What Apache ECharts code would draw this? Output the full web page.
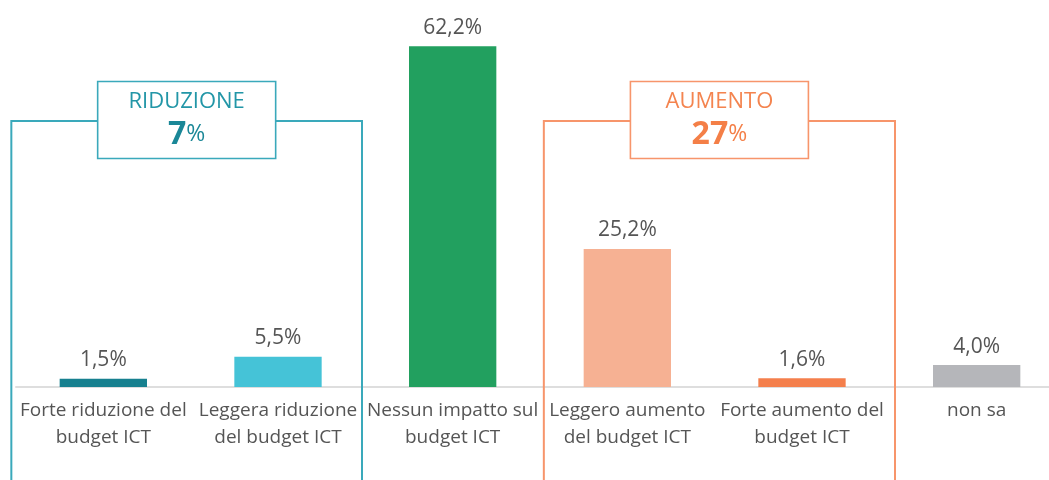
<!DOCTYPE html>
<html><head><meta charset="utf-8">
<script src="https://cdn.jsdelivr.net/npm/echarts@6/dist/echarts.min.js"></script>
<style>html,body{margin:0;padding:0;background:#fff}#c{width:1049px;height:480px}</style>
</head><body><div id="c"></div>
<script>
var categories = ['Forte riduzione del\nbudget ICT','Leggera riduzione\ndel budget ICT','Nessun impatto sul\nbudget ICT','Leggero aumento\ndel budget ICT','Forte aumento del\nbudget ICT','non sa'];
var values = [1.5, 5.5, 62.2, 25.2, 1.6, 4.0];
var barColors = ['#17808f','#45c3d7','#22a05f','#f6b193','#f47f4c','#b5b6ba'];
var groupTitles = ['RIDUZIONE','AUMENTO'];
var groupTotals = ['7','27'];
var groupFrom = [0, 3];
var groupTo = [1, 4];
// styling / layout (not data)
var groupStyle = [
  {line:'#3aa9bb', text:'#2296a7', big:'#1a8797', padL:92, padR:84},
  {line:'#f7956b', text:'#f4844f', big:'#f47f47', padL:83.5, padR:93}
];
var FONT = '"Open Sans", "Noto Sans", sans-serif';
var chart = echarts.init(document.getElementById('c'));
chart.setOption({
  animation:false,
  grid:{left:16, width:1048, top:3.4, bottom:93, containLabel:false, outerBoundsMode:'none'},
  xAxis:{type:'category', data:categories,
    axisLine:{lineStyle:{color:'#dedede', width:2}}, axisTick:{show:false},
    axisLabel:{interval:0, color:'#555', fontSize:19, fontFamily:FONT, lineHeight:27, margin:10}},
  yAxis:{type:'value', min:0, max:70, show:false, splitLine:{show:false}},
  series:[{type:'bar', barWidth:'50%',
    data: values.map(function(v,i){return {value:v, itemStyle:{color:barColors[i]}};}),
    label:{show:true, position:'top', distance:8, color:'#555', fontSize:21, fontFamily:FONT,
      formatter:function(p){return p.value.toFixed(1).replace('.',',')+'%';}}
  }]
});
function drawGroups(){
  var els = [];
  groupTitles.forEach(function(title, k){
    var s = groupStyle[k];
    var x0 = chart.convertToPixel({xAxisIndex:0}, groupFrom[k]);
    var x1 = chart.convertToPixel({xAxisIndex:0}, groupTo[k]);
    var left = x0 - s.padL, right = x1 + s.padR;
    var topY = 121;
    els.push({type:'polyline', z:1, shape:{points:[[left,500],[left,topY],[right,topY],[right,500]]},
      style:{stroke:s.line, lineWidth:2, fill:null}});
    var mid = (left+right)/2, bw = 178, bh = 77;
    var boxTop = 81.5;
    els.push({type:'rect', z:2, shape:{x:mid-bw/2, y:boxTop, width:bw, height:bh},
      style:{fill:'#fff', stroke:s.line, lineWidth:1.6}});
    els.push({type:'text', z:3, x:mid, y:boxTop+20, style:{text:title, fill:s.text, font:'22px '+FONT, align:'center', verticalAlign:'middle'}});
    els.push({type:'text', z:3, x:mid, y:boxTop+53, style:{
      text:'{b|'+groupTotals[k]+'}{p|%}', align:'center', verticalAlign:'middle',
      rich:{b:{fontSize:32, fontWeight:'bold', fill:s.big, fontFamily:FONT}, p:{fontSize:23, fill:s.big, fontFamily:FONT}}}});
  });
  chart.setOption({graphic:els});
}
drawGroups();
</script></body></html>
